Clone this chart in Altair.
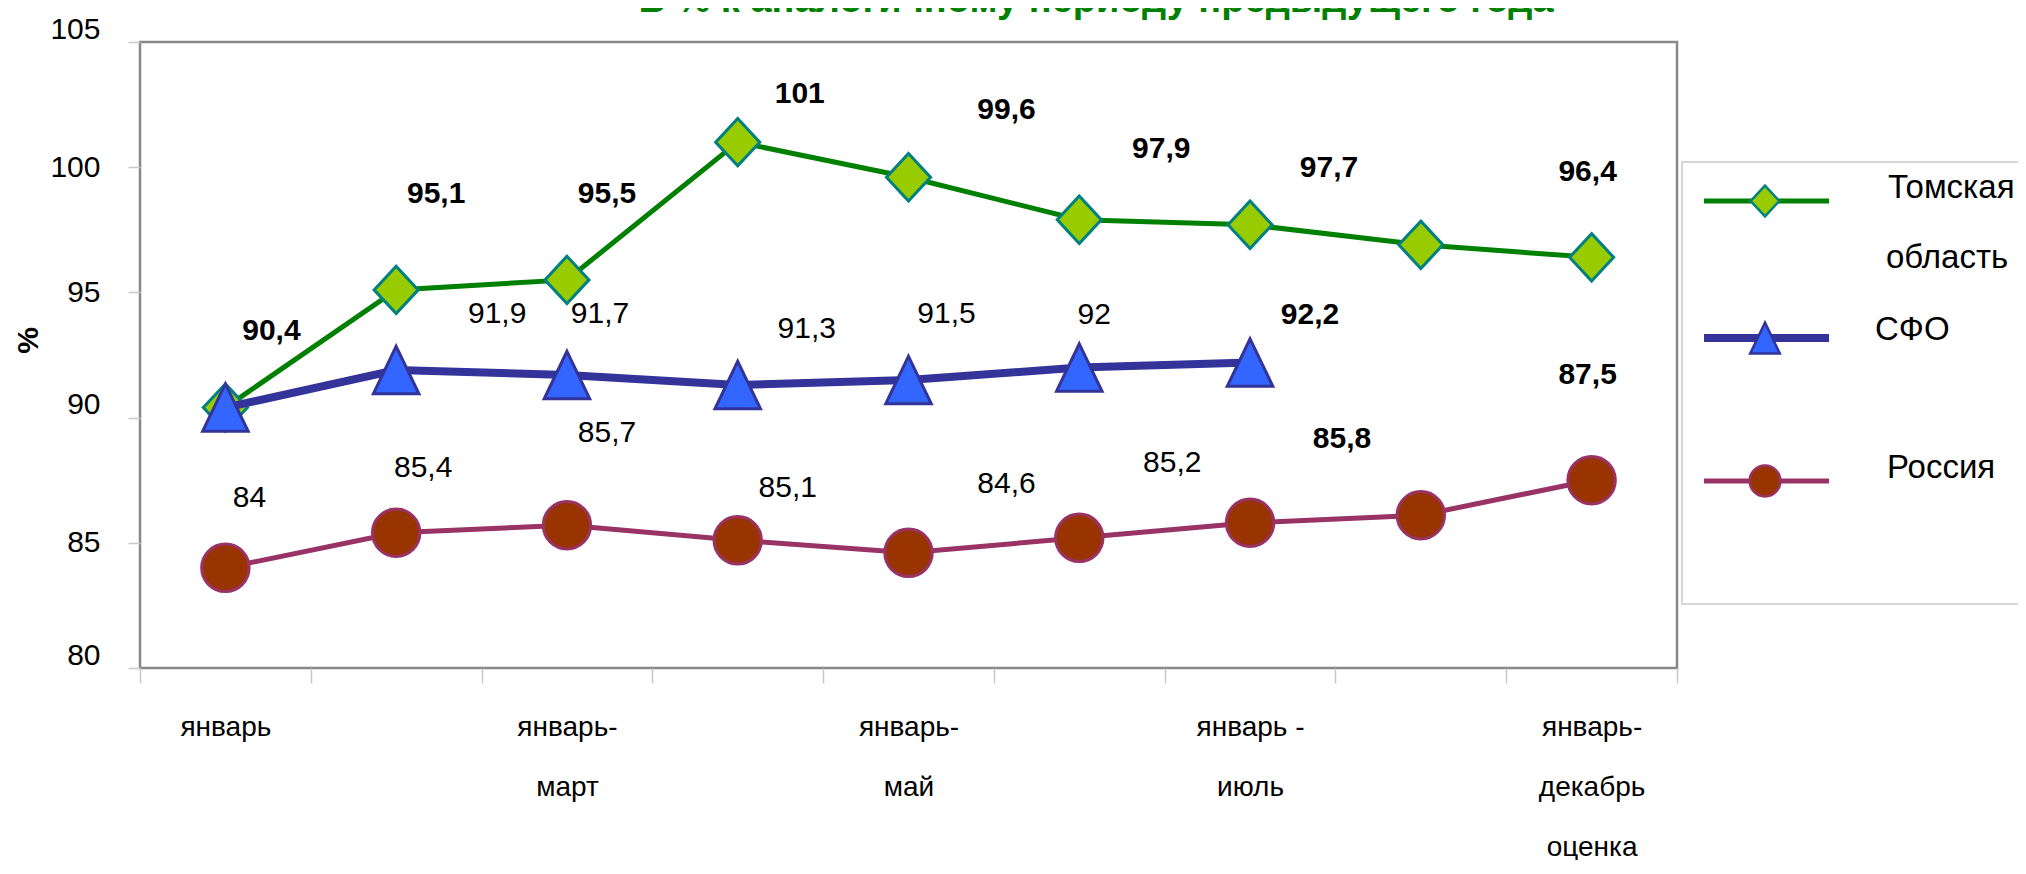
import altair as alt
import pandas as pd

# ---------------- data ----------------
categories = ["январь", "январь-февраль", "январь-март", "январь-апрель", "январь-май",
              "январь-июнь", "январь-июль", "январь-август", "январь-декабрь оценка"]
tick_labels = ["январь", "", "январь-|март", "", "январь-|май", "", "январь -|июль", "",
               "январь-|декабрь|оценка"]

series_names = ["Томская область", "СФО", "Россия"]
tomsk = [90.4, 95.1, 95.5, 101.0, 99.6, 97.9, 97.7, 96.9, 96.4]
sfo = [90.4, 91.9, 91.7, 91.3, 91.5, 92.0, 92.2]
russia = [84.0, 85.4, 85.7, 85.1, 84.6, 85.2, 85.8, 86.1, 87.5]

# data-label placement (pixel offsets from the point), None = no label
tomsk_dx = [46, 40, 40, 62, 98, 82, 79, None, -4]
tomsk_dy = [-77, -96, -86, -48, -67, -71, -57, None, -85]
tomsk_bold = [True] * 9
sfo_dx = [None, 101, 33, 69, 38, 15, 60]
sfo_dy = [None, -56, -61, -56, -66, -53, -48]
sfo_bold = [False, False, False, False, False, False, True]
russia_dx = [24, 27, 40, 50, 98, 93, 92, None, -4]
russia_dy = [-70, -65, -92, -52, -69, -75, -84, None, -105]
russia_bold = [False, False, False, False, False, False, True, False, True]

y_ticks = [80, 85, 90, 95, 100, 105]
y_raised = [105, 90, 80]   # tick labels that sit slightly above their tick in the original

title_text = "В % к аналогичному периоду предыдущего года"

FONT = "Liberation Sans"
W, H = 1537, 626

# ---------------- styles ----------------
styles = {
    "Томская область": dict(line="#008000", lw=5, fill="#99cc00", stroke="#008080",
                            shape="M0,-1L0.93,0L0,1L-0.93,0Z"),
    "СФО": dict(line="#333399", lw=8, fill="#3366ff", stroke="#333399",
                shape="M0,-1L0.96,1L-0.96,1Z"),
    "Россия": dict(line="#993366", lw=5, fill="#993300", stroke="#993366",
                   shape="circle"),
}

# ---------------- x axis label expression ----------------
expr = "''"
for c, t in reversed(list(zip(categories, tick_labels))):
    expr = f"datum.value == '{c}' ? '{t}' : ({expr})"
label_expr = f"split({expr}, '|')"

x_enc = alt.X(
    "cat:N",
    sort=categories,
    bandPosition=0.5,
    scale=alt.Scale(type="band", domain=categories, paddingInner=0, paddingOuter=0),
    axis=alt.Axis(
        title=None, labelExpr=label_expr, labelAngle=0, labelFontSize=28,
        labelFont=FONT, labelColor="#000000", labelLineHeight=60, labelPadding=30,
        tickBand="extent", tickSize=15, tickColor="#c8c8c8", tickWidth=1.5,
        domain=False, grid=False, labelAlign="center",
    ),
)
raised_test = " || ".join(f"datum.value == {v}" for v in y_raised)
y_enc = alt.Y(
    "value:Q",
    scale=alt.Scale(domain=[80, 105], nice=False, zero=False),
    axis=alt.Axis(
        values=y_ticks, grid=False, domain=False,
        tickColor="#c8c8c8", tickSize=12, tickWidth=1.5,
        labelFontSize=30, labelFont=FONT, labelColor="#000000", labelPadding=28,
        labelOffset={"condition": {"test": raised_test, "value": -13}, "value": 0},
        title="%", titleFont=FONT, titleFontSize=30, titleFontWeight="bold",
        titleColor="#000000", titleX=-112, titleY=298, titleAngle=270,
        titleAlign="center", titleBaseline="middle",
    ),
)


def fmt(v):
    return f"{v:g}".replace(".", ",")


layers = []
series_data = [
    ("Томская область", tomsk, tomsk_dx, tomsk_dy, tomsk_bold),
    ("СФО", sfo, sfo_dx, sfo_dy, sfo_bold),
    ("Россия", russia, russia_dx, russia_dy, russia_bold),
]
for name, vals, dxs, dys, bolds in series_data:
    st = styles[name]
    df = pd.DataFrame({"cat": categories[:len(vals)], "value": vals, "series": name})
    base = alt.Chart(df)
    layers.append(base.mark_line(color=st["line"], strokeWidth=st["lw"],
                                 interpolate="linear").encode(x=x_enc, y=y_enc))
    layers.append(base.mark_point(shape=st["shape"], filled=True, fill=st["fill"],
                                  stroke=st["stroke"], strokeWidth=3, size=2250,
                                  opacity=1).encode(x=x_enc, y=y_enc))

for name, vals, dxs, dys, bolds in series_data:
    for i, v in enumerate(vals):
        if dxs[i] is None:
            continue
        d = pd.DataFrame({"cat": [categories[i]], "value": [v], "label": [fmt(v)]})
        layers.append(
            alt.Chart(d).mark_text(
                dx=dxs[i], dy=dys[i], fontSize=30, font=FONT, color="#000000",
                fontWeight="bold" if bolds[i] else "normal", align="center",
                baseline="middle",
            ).encode(x=x_enc, y=y_enc, text="label:N")
        )

# ---------------- legend (drawn) ----------------
legend_y = [159, 296, 439]
legend_text = [["Томская", "область"], ["СФО"], ["Россия"]]
legend_text_pos = [[(1748, 146), (1746, 216)], [(1735, 288)], [(1747, 426)]]
dummy = pd.DataFrame({"a": [0]})
layers.append(
    alt.Chart(dummy).mark_rect(fill="white", stroke="#d6d6d6", strokeWidth=2).encode(
        x=alt.value(1542), x2=alt.value(1900), y=alt.value(120), y2=alt.value(562))
)
for name, ly, texts, tpos in zip(series_names, legend_y, legend_text, legend_text_pos):
    st = styles[name]
    layers.append(
        alt.Chart(dummy).mark_rule(color=st["line"], strokeWidth=st["lw"]).encode(
            x=alt.value(1564), x2=alt.value(1689), y=alt.value(ly))
    )
    layers.append(
        alt.Chart(dummy).mark_point(shape=st["shape"], filled=True, fill=st["fill"],
                                    stroke=st["stroke"], strokeWidth=2.5, size=950,
                                    opacity=1).encode(x=alt.value(1625), y=alt.value(ly))
    )
    for t, (tx, ty) in zip(texts, tpos):
        layers.append(
            alt.Chart(dummy).mark_text(fontSize=33, font=FONT, color="#000000",
                                       align="left", baseline="middle").encode(
                x=alt.value(tx), y=alt.value(ty), text=alt.value(t))
        )

# title (mostly above the visible area, as in the original)
layers.append(
    alt.Chart(dummy).mark_text(fontSize=38, font=FONT, fontWeight="bold", color="#008000",
                               align="center", baseline="alphabetic").encode(
        x=alt.value(956), y=alt.value(-30), text=alt.value(title_text))
)

chart = alt.layer(*layers).properties(
    width=W, height=H,
    padding={"left": 132, "top": 34, "right": 341, "bottom": 192},
    autosize=alt.AutoSizeParams(type="none"),
    background="white",
).configure_view(stroke="#888888", strokeWidth=2.5)

chart.save("out.html", embed_options={"renderer": "svg", "actions": False})
